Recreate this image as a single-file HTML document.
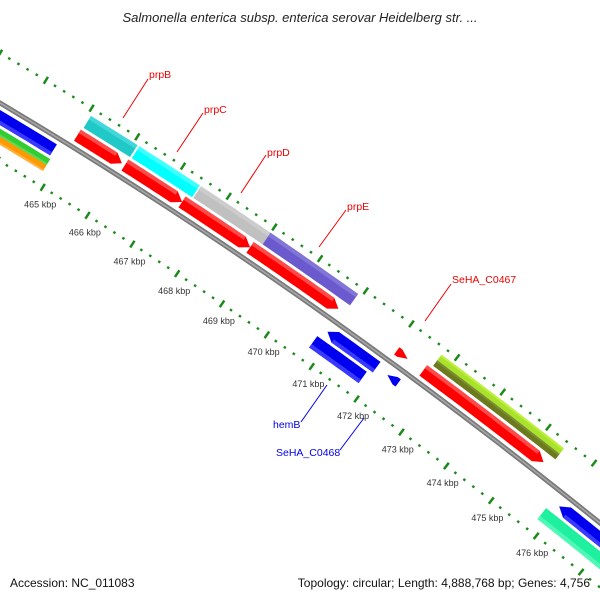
<!DOCTYPE html>
<html><head><meta charset="utf-8"><style>
html,body{margin:0;padding:0;background:#fff;overflow:hidden;width:600px;height:600px;}
svg{display:block;font-family:"Liberation Sans",sans-serif;}
</style></head><body>
<svg id="s" width="600" height="600" viewBox="0 0 600 600" xmlns="http://www.w3.org/2000/svg" overflow="hidden">
<text x="300" y="22" font-size="13" font-style="italic" text-anchor="middle" fill="#222">Salmonella enterica subsp. enterica serovar Heidelberg str. ...</text>
<g id="g"></g>
<text x="10" y="587" font-size="12" fill="#111">Accession: NC_011083</text>
<text x="590" y="587" font-size="12" fill="#111" text-anchor="end">Topology: circular; Length: 4,888,768 bp; Genes: 4,756</text>
</svg>
<script>
var P0=[0,103],P1=[300,281],P2=[600,523];
function B(t){var a=(1-t)*(1-t),b=2*t*(1-t),c=t*t;return [a*P0[0]+b*P1[0]+c*P2[0],a*P0[1]+b*P1[1]+c*P2[1]];}
function N(t){var dx=2*(1-t)*(P1[0]-P0[0])+2*t*(P2[0]-P1[0]),dy=2*(1-t)*(P1[1]-P0[1])+2*t*(P2[1]-P1[1]);var l=Math.hypot(dx,dy);return [dy/l,-dx/l];}
function pt(t,r){var b=B(t),n=N(t);return [b[0]+n[0]*r,b[1]+n[1]*r];}
var g=document.getElementById('g'),h='';
function poly(ps,fill){h+='<polygon points="'+ps.map(function(p){return p[0].toFixed(1)+','+p[1].toFixed(1)}).join(' ')+'" fill="'+fill+'"/>';}
function arc(t0,t1,r){var a=[],n=20;for(var i=0;i<=n;i++)a.push(pt(t0+(t1-t0)*i/n,r));return a;}
function bar(t0,t1,r1,r2,fill,dir,hl){
  var a=0.013,ps;
  if(dir==1){ps=arc(t0,t1-a,r2).concat([pt(t1,(r1+r2)/2)]).concat(arc(t0,t1-a,r1).reverse());}
  else if(dir==-1){ps=[pt(t0,(r1+r2)/2)].concat(arc(t0+a,t1,r2)).concat(arc(t0+a,t1,r1).reverse());}
  else ps=arc(t0,t1,r2).concat(arc(t0,t1,r1).reverse());
  poly(ps,fill);
  if(hl){var rm=r2-(r2-r1)*0.3;var e=dir==1?t1-a:t1,s=dir==-1?t0+a:t0;poly(arc(s,e,r2).concat(arc(s,e,rm).reverse()),hl);}
}
var bb=arc(-0.05,1.05,0);
h+='<polyline points="'+bb.map(function(p){return p.join(',')}).join(' ')+'" fill="none" stroke="#7a7a7a" stroke-width="5"/>';
h+='<polyline points="'+bb.map(function(p){return p.join(',')}).join(' ')+'" fill="none" stroke="#a8a8a8" stroke-width="1.5"/>';
for(var k=4600;k<=4790;k+=2){var kb=k/10;var t=0.115+(kb-465)*0.0755;var maj=(k%10==0);
 [[43,1],[-50,-1]].forEach(function(o){var l=maj?4:1.2;var p1=pt(t,o[0]-l),p2=pt(t,o[0]+l);
 h+='<line x1="'+p1[0]+'" y1="'+p1[1]+'" x2="'+p2[0]+'" y2="'+p2[1]+'" stroke="#1a8a1a" stroke-width="2.5"/>';});
 if(maj&&kb>=465&&kb<=476){var p=pt(t+0.01,-66);h+='<text x="'+p[0].toFixed(1)+'" y="'+(p[1]+3).toFixed(1)+'" font-size="9" fill="#333" text-anchor="middle">'+kb+' kbp</text>';}
}
bar(-0.1,0.1,-6,-19,'#0000ee',0,'#3a3aff');
bar(-0.1,0.103,-22,-29,'#33cc33',0,'#55dd55');
bar(-0.1,0.103,-29,-36,'#ff9900',0,'#ffb040');
var R='#ff0000',RH='#ff4a4a';
bar(0.118,0.192,6,19,R,1,RH);
bar(0.12,0.197,22,36,'#20c8c8',0,'#40d8d8');
bar(0.197,0.292,6,19,R,1,RH);
bar(0.2,0.3,22,36,'#00ffff',0,'#40ffff');
bar(0.292,0.405,6,19,R,1,RH);
bar(0.302,0.417,22,36,'#c0c0c0',0,'#cccccc');
bar(0.405,0.552,6,19,R,1,RH);
bar(0.417,0.562,22,36,'#6a5acd',0,'#8275d8');
bar(0.649,0.667,8,17,R,1);
bar(0.658,0.676,-8,-17,'#0000ee',-1);
bar(0.558,0.64,-6,-19,'#0000ee',-1,'#3a3aff');
bar(0.55,0.633,-22,-36,'#0000ee',0,'#3a3aff');
bar(0.693,0.893,6,19,R,1,RH);
bar(0.7,0.903,22,29,'#6b7a1f',0,'#7d8c30');
bar(0.7,0.903,29,36,'#a8e22a',0,'#bff040');
bar(0.945,1.1,-6,-19,'#0000ee',-1,'#3a3aff');
bar(0.933,1.1,-22,-36,'#1ef0a0',0,'#50f8b8');
function lab(x1,y1,x2,y2,tx,ty,txt,c){h+='<line x1="'+x1+'" y1="'+y1+'" x2="'+x2+'" y2="'+y2+'" stroke="'+c+'" stroke-width="1"/><text x="'+tx+'" y="'+ty+'" font-size="10.5" fill="'+c+'">'+txt+'</text>';}
lab(123,118,148,79,149,78,'prpB','#ee0000');
lab(177,152,203,113,204,113,'prpC','#ee0000');
lab(241,193,266,155,267,156,'prpD','#ee0000');
lab(319,247,346,210,347,210,'prpE','#ee0000');
lab(425,321,451,284,452,283,'SeHA_C0467','#ee0000');
h+='<line x1="327" y1="385" x2="301" y2="422" stroke="#0000ee"/><text x="273" y="428" font-size="10.5" fill="#0000ee">hemB</text>';
h+='<line x1="364" y1="418" x2="340" y2="450" stroke="#0000ee"/><text x="276" y="456" font-size="10.5" fill="#0000ee">SeHA_C0468</text>';
g.innerHTML=h;
</script>
</body></html>
